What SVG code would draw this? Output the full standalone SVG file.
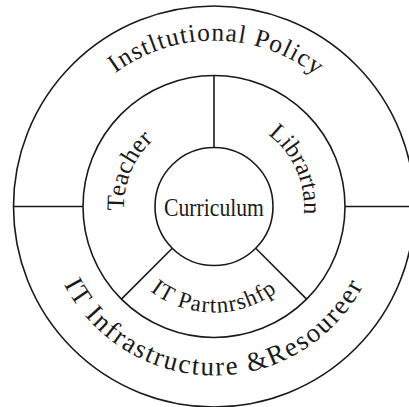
<svg xmlns="http://www.w3.org/2000/svg" width="409" height="407" viewBox="0 0 409 407">
<style>
.ring{fill:none;stroke:#1a1a1a;stroke-width:1.6}
.ln{stroke:#1a1a1a;stroke-width:1.6;fill:none}
.lbl{font-family:"Liberation Serif","Times New Roman",serif;fill:#1a1a1a}
</style>
<defs>
<path id="pTop" d="M 48,206.5 A 166 166 0 0 1 380,206.5"/>
<path id="pBot" d="M 45,206.5 A 169 169 0 0 0 383,206.5"/>
<path id="pTeacher" d="M 142.6,261.3 A 90 90 0 0 1 202.25,117.3"/>
<path id="pLib" d="M 225,117.2 A 90 90 0 0 1 285.9,260.7"/>
<path id="pPart" d="M 122.2,259.5 A 106 106 0 0 0 305.8,259.5"/>
</defs>
<rect width="409" height="407" fill="#ffffff"/>
<g id="policy">
<circle class="ring" cx="214" cy="206.5" r="200.5"/>
<text class="lbl" font-size="25.5" letter-spacing="1.1" text-anchor="middle"><textPath href="#pTop" startOffset="50.5%">Instltutional Policy</textPath></text>
</g>
<g id="infrastructure">
<text class="lbl" font-size="27" letter-spacing="1.9" text-anchor="middle"><textPath href="#pBot" startOffset="50%">IT Infrastructure &amp;Resoureer</textPath></text>
</g>
<g id="middle-ring">
<circle class="ring" cx="214" cy="206.5" r="131"/>
</g>
<g id="teacher">
<text class="lbl" font-size="25" text-anchor="middle"><textPath href="#pTeacher" startOffset="50%">Teacher</textPath></text>
</g>
<g id="librarian">
<text class="lbl" font-size="24.5" text-anchor="middle"><textPath href="#pLib" startOffset="49%">Librartan</textPath></text>
</g>
<g id="partnership">
<text class="lbl" font-size="23" letter-spacing="1.1" text-anchor="middle"><textPath href="#pPart" startOffset="50%">IT Partnrshfp</textPath></text>
</g>
<g id="curriculum">
<circle class="ring" cx="214" cy="206.5" r="59"/>
<text class="lbl" x="214" y="215.7" font-size="25" text-anchor="middle" textLength="100" lengthAdjust="spacingAndGlyphs">Curriculum</text>
</g>
<g id="connectors">
<line class="ln" x1="214" y1="75.5" x2="214" y2="147.5"/>
<line class="ln" x1="172.3" y1="248.2" x2="121.4" y2="299.1"/>
<line class="ln" x1="255.7" y1="248.2" x2="306.6" y2="299.1"/>
<line class="ln" x1="13.5" y1="206.5" x2="83" y2="206.5"/>
<line class="ln" x1="345" y1="206.5" x2="414.5" y2="206.5"/>
</g>
</svg>
